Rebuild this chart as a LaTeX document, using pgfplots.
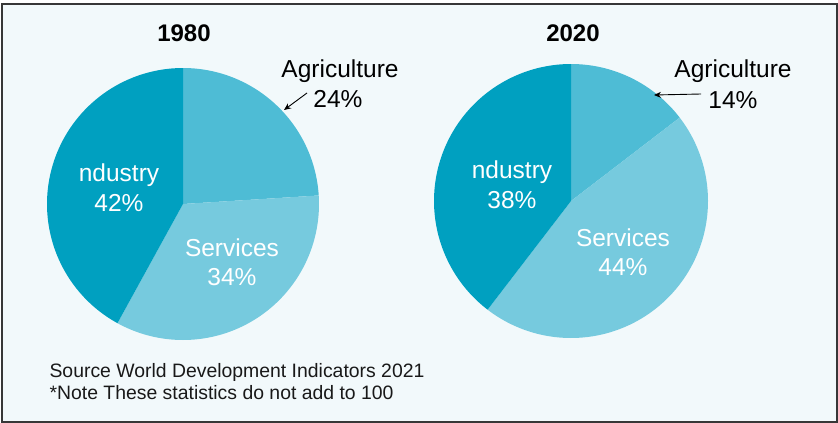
\documentclass[border=0pt]{standalone}
\usepackage{pgfplots}
\pgfplotsset{compat=1.18}
\usepackage{pgfplotstable}
\usepackage{fontspec}
\setmainfont{Liberation Sans}
\usetikzlibrary{arrows.meta}
\definecolor{bg}{RGB}{242,249,251}
\definecolor{agr}{RGB}{78,188,213}
\definecolor{ser}{RGB}{118,202,222}
\definecolor{ind}{RGB}{0,160,192}
\definecolor{frm}{RGB}{55,55,55}

\pgfplotstableread{
year agr ser ind
1980 24 34 42
2020 14 44 38
}\shares

\newcommand\getangles[2]{% row, suffix
  \pgfplotstablegetelem{#1}{agr}\of\shares \edef\va{\pgfplotsretval}%
  \pgfplotstablegetelem{#1}{ser}\of\shares \edef\vs{\pgfplotsretval}%
  \pgfplotstablegetelem{#1}{ind}\of\shares \edef\vi{\pgfplotsretval}%
  \pgfmathsetmacro\tot{\va+\vs+\vi}%
  \pgfmathsetmacro\tmpA{90-360*\va/\tot}%
  \pgfmathsetmacro\tmpS{\tmpA-360*\vs/\tot}%
  \expandafter\xdef\csname aA#2\endcsname{\tmpA}%
  \expandafter\xdef\csname aS#2\endcsname{\tmpS}%
}
\getangles{0}{one}
\getangles{1}{two}

\begin{document}
\begin{tikzpicture}[x=1pt,y=1pt]
\useasboundingbox (0,0) rectangle (838,-423);
\fill[bg] (1.5,-3.5) rectangle (836.5,-421.5);
\draw[frm, line width=2pt] (1.5,-3.5) rectangle (836.5,-421.5);

\begin{axis}[at={(183pt,-204pt)}, anchor=center, width=272pt, height=272pt,
  scale only axis, xmin=-1, xmax=1, ymin=-1, ymax=1, hide axis, clip=false]
\addplot[draw=none, fill=agr, domain=\aAone:90, samples=120] ({cos(x)},{sin(x)}) -- (axis cs:0,0) -- cycle;
\addplot[draw=none, fill=ser, domain=\aSone:\aAone, samples=120] ({cos(x)},{sin(x)}) -- (axis cs:0,0) -- cycle;
\addplot[draw=none, fill=ind, domain=-270:\aSone, samples=120] ({cos(x)},{sin(x)}) -- (axis cs:0,0) -- cycle;
\end{axis}

\begin{axis}[at={(571pt,-201pt)}, anchor=center, width=274pt, height=274pt,
  scale only axis, xmin=-1, xmax=1, ymin=-1, ymax=1, hide axis, clip=false]
\addplot[draw=none, fill=agr, domain=\aAtwo:90, samples=120] ({cos(x)},{sin(x)}) -- (axis cs:0,0) -- cycle;
\addplot[draw=none, fill=ser, domain=\aStwo:\aAtwo, samples=120] ({cos(x)},{sin(x)}) -- (axis cs:0,0) -- cycle;
\addplot[draw=none, fill=ind, domain=-270:\aStwo, samples=120] ({cos(x)},{sin(x)}) -- (axis cs:0,0) -- cycle;
\end{axis}

% titles
\node[font=\fontsize{24}{28}\selectfont\bfseries] at (184,-33) {1980};
\node[font=\fontsize{24}{28}\selectfont\bfseries] at (573,-33) {2020};

% 1980 labels
\node[font=\fontsize{24.5}{28}\selectfont] at (340,-71) {Agriculture};
\node[font=\fontsize{24.5}{28}\selectfont] at (338,-99) {24\%};
\draw[-{Stealth[length=7pt,width=6pt]}, line width=0.9pt] (307,-93) -- (284,-110);
\node[white, font=\fontsize{24.5}{28}\selectfont] at (119,-175) {ndustry};
\node[white, font=\fontsize{24.5}{28}\selectfont] at (119,-203) {42\%};
\node[white, font=\fontsize{24.5}{28}\selectfont] at (232,-248) {Services};
\node[white, font=\fontsize{24.5}{28}\selectfont] at (232,-277) {34\%};

% 2020 labels
\node[font=\fontsize{24.5}{28}\selectfont] at (733,-71) {Agriculture};
\node[font=\fontsize{24.5}{28}\selectfont] at (733,-100) {14\%};
\draw[-{Stealth[length=7pt,width=6pt]}, line width=0.9pt] (701,-94) -- (654,-95);
\node[white, font=\fontsize{24.5}{28}\selectfont] at (512,-172) {ndustry};
\node[white, font=\fontsize{24.5}{28}\selectfont] at (512,-200) {38\%};
\node[white, font=\fontsize{24.5}{28}\selectfont] at (623,-238) {Services};
\node[white, font=\fontsize{24.5}{28}\selectfont] at (623,-267) {44\%};

% source
\node[anchor=west, font=\fontsize{19.4}{22}\selectfont, text=black!90] at (46,-372) {Source World Development Indicators 2021};
\node[anchor=west, font=\fontsize{19.4}{22}\selectfont, text=black!90] at (46,-393) {*Note These statistics do not add to 100};
\end{tikzpicture}
\end{document}
